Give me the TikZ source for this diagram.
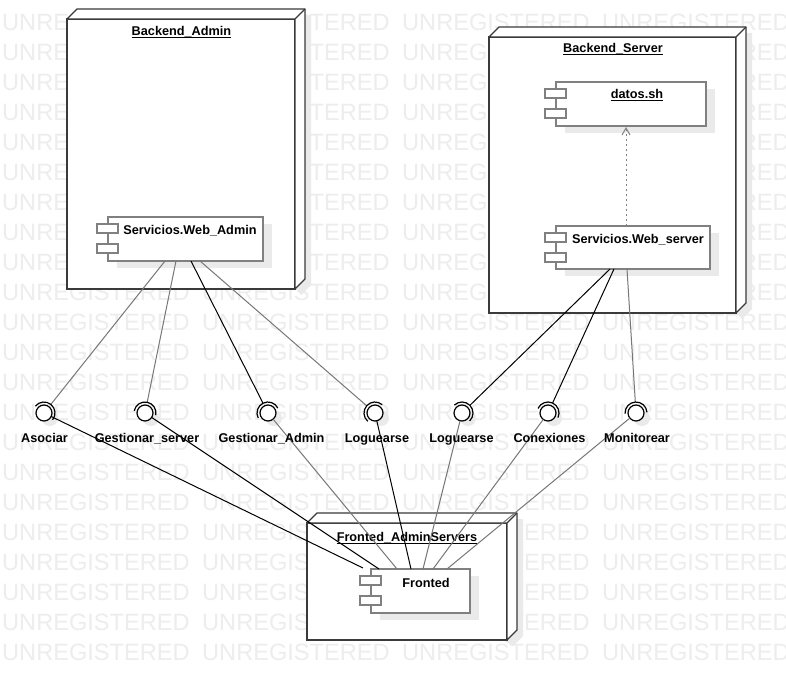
\documentclass[tikz,border=0pt]{standalone}
\usepackage{fontspec}
\setmainfont{Liberation Sans}
\usetikzlibrary{calc,arrows.meta}
\definecolor{wm}{HTML}{EDEDED}
\definecolor{shd}{HTML}{EAEAEA}
\definecolor{edge}{HTML}{3A3A3A}
\definecolor{cgray}{HTML}{808080}
\definecolor{lgray}{HTML}{777777}

\newcommand\dnode[5]{% name, x0, y0, x1, y1
  \fill[shd] (#2+6,#3+6) -- (#2+16,#3-4) -- (#4+16,#3-4) -- (#4+16,#5-4) -- (#4+6,#5+6) -- cycle;
  \node[nodeface, minimum width={(#4-#2)*1pt}, minimum height={(#5-#3)*1pt}] (#1) at ({(#2+#4)/2},{(#3+#5)/2}) {};
  \draw[nodeside] (#1.north west) -- ++(10,-10) -- ($(#1.north east)+(10,-10)$) -- ($(#1.south east)+(10,-10)$) -- (#1.south east) -- (#1.north east) -- cycle;
  \draw[nodeside] (#1.north east) -- ++(10,-10);
}
\newcommand\comp[5]{% name, x0, y0, x1, y1
  \fill[shd] (#2+9,#3+7) rectangle (#4+9,#5+7);
  \node[compbox, minimum width={(#4-#2)*1pt}, minimum height={(#5-#3)*1pt}] (#1) at ({(#2+#4)/2},{(#3+#5)/2}) {};
  \node[comptab] (#1-t1) at (#2-0.5,#3+11.5) {};
  \node[comptab] (#1-t2) at (#2-0.5,#3+31.5) {};
}
\newcommand\sock[2]{% interface node, coordinate of the other end
  \draw[sockline] let \p1=($(#2)-(#1.center)$), \n1={atan2(\y1,\x1)} in
    ([shift={(\n1-90:11pt)}]#1.center) arc[start angle=\n1-90, end angle=\n1+90, radius=11pt];
}

\begin{document}
\begin{tikzpicture}[x=1pt,y=-1pt,
  wmark/.style={text=wm, font=\fontsize{23.6}{28}\selectfont, inner sep=0, anchor=base west},
  nodeface/.style={draw=edge, fill=white, line width=1.3pt, inner sep=0, outer sep=0},
  nodeside/.style={draw=edge, fill=white, line width=1.3pt, line join=round},
  compbox/.style={draw=cgray, fill=white, line width=1.5pt, inner sep=0, outer sep=0},
  comptab/.style={draw=cgray, fill=white, line width=1.5pt, minimum width=21pt, minimum height=9pt, inner sep=0, outer sep=0},
  lbl/.style={font=\fontsize{12.7}{15}\selectfont\bfseries, inner sep=0, anchor=base},
  uline/.style={draw=black, line width=1pt},
  ball/.style={circle, draw=black, fill=white, line width=1.2pt, minimum size=16pt, inner sep=0, outer sep=0},
  sockline/.style={draw=black, line width=1.2pt},
  gline/.style={draw=lgray, line width=1pt},
  bline/.style={draw=black, line width=1pt},
  dep/.style={draw=cgray, line width=1pt, dash pattern=on 2.5pt off 2.5pt, -{Straight Barb[length=7pt,width=8pt]}}
]
\useasboundingbox (0,0) rectangle (786,682);
\fill[white] (0,0) rectangle (786,682);

% watermark
\foreach \k in {0,...,21}{
  \foreach \j in {0,...,3}{
    \node[wmark] (w\k-\j) at ({2+200*\j},{30.5+30*\k}) {UNREGISTERED};
  }
}

% deployment nodes
\dnode{ba}{67}{19}{295}{289}
\dnode{bs}{489}{37}{736}{313}
\dnode{fa}{307}{523}{507}{640}

\node[lbl] (tba) at (181.5,36) {Backend\_Admin};
\draw[uline] ([yshift=-2pt]tba.base west) -- ([yshift=-2pt]tba.base east);
\node[lbl] (tbs) at (613,53) {Backend\_Server};
\draw[uline] ([yshift=-2pt]tbs.base west) -- ([yshift=-2pt]tbs.base east);
\node[lbl] (tfa) at (407,541) {Fronted\_AdminServers};
\draw[uline] ([yshift=-2pt]tfa.base west) -- ([yshift=-2pt]tfa.base east);

% components
\comp{wa}{108}{217}{263}{261}
\comp{ds}{556}{82}{706}{126}
\comp{ws}{556}{226}{710}{269}
\comp{fr}{371}{569}{470}{613}

\node[lbl] (twa) at (190,234) {Servicios.Web\_Admin};
\node[lbl] (tds) at (637,99) {datos.sh};
\draw[uline] ([yshift=-2pt]tds.base west) -- ([yshift=-2pt]tds.base east);
\node[lbl] (tws) at (638,243) {Servicios.Web\_server};
\node[lbl] (tfr) at (426,587) {Fronted};

% dependency
\coordinate (wstop) at (626,226);
\coordinate (dsbot) at (626,127);
\draw[dep] (wstop) -- (dsbot);

% attachment points
\coordinate (a1) at (165,261);
\coordinate (a2) at (176,261);
\coordinate (a3) at (191,261);
\coordinate (a4) at (200,261);
\coordinate (a5) at (610,269);
\coordinate (a6) at (614,269);
\coordinate (a7) at (627,269);
\coordinate (f1) at (363,568);
\coordinate (f2) at (379,569);
\coordinate (f3) at (397,569);
\coordinate (f4) at (411,569);
\coordinate (f5) at (423,569);
\coordinate (f6) at (433,569);
\coordinate (f7) at (447,569);

% interface shadows
\foreach \x in {44,145,268,375,462,548,636}{
  \fill[shd] (\x+6,418) circle[radius=8pt];
}

% interfaces
\node[ball] (i1) at (44,413) {};
\node[ball] (i2) at (145,413) {};
\node[ball] (i3) at (268,413) {};
\node[ball] (i4) at (375,413) {};
\node[ball] (i5) at (462,413) {};
\node[ball] (i6) at (548,413) {};
\node[ball] (i7) at (636,413) {};

% connectors component -> socket
\draw[gline] (a1) -- ($(i1.center)!11pt!(a1)$);
\draw[gline] (a2) -- ($(i2.center)!11pt!(a2)$);
\draw[bline] (a3) -- ($(i3.center)!11pt!(a3)$);
\draw[gline] (a4) -- ($(i4.center)!11pt!(a4)$);
\draw[bline] (a5) -- ($(i5.center)!11pt!(a5)$);
\draw[bline] (a6) -- ($(i6.center)!11pt!(a6)$);
\draw[gline] (a7) -- ($(i7.center)!11pt!(a7)$);

\sock{i1}{a1}
\sock{i2}{a2}
\sock{i3}{a3}
\sock{i4}{a4}
\sock{i5}{a5}
\sock{i6}{a6}
\sock{i7}{a7}

% connectors ball -> Fronted
\draw[bline] (i1) -- (f1);
\draw[bline] (i2) -- (f2);
\draw[gline] (i3) -- (f3);
\draw[bline] (i4) -- (f4);
\draw[gline] (i5) -- (f5);
\draw[gline] (i6) -- (f6);
\draw[gline] (i7) -- (f7);

% labels
\node[lbl] (l1) at (44.5,442) {Asociar};
\node[lbl] (l2) at (147,442) {Gestionar\_server};
\node[lbl] (l3) at (271.5,442) {Gestionar\_Admin};
\node[lbl] (l4) at (377,442) {Loguearse};
\node[lbl] (l5) at (461.5,442) {Loguearse};
\node[lbl] (l6) at (549.5,442) {Conexiones};
\node[lbl] (l7) at (637,442) {Monitorear};
\end{tikzpicture}
\end{document}
